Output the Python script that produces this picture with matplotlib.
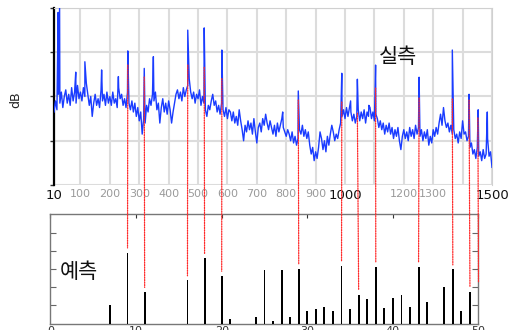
import numpy as np
import matplotlib
matplotlib.use("Agg")
import matplotlib.pyplot as plt
from matplotlib.patches import ConnectionPatch

plt.rcParams['font.family'] = ['DejaVu Sans']

# ---------------- data ----------------
# measured spectrum (top panel), level every 5 Hz from 10 to 1500 Hz
spec_freq = np.arange(10, 1501, 5)
spec_db = [
    33, 38, 34, 41, 37, 42, 35, 40, 43, 37, 41, 36, 44, 38, 42, 37, 45, 39, 42, 38,   # 10-105
    44, 40, 46, 41, 36, 40, 31, 37, 41, 36, 39, 35, 43, 38, 41, 36, 42, 37, 40, 36,   # 110-205
    42, 37, 39, 35, 44, 39, 41, 36, 39, 35, 42, 37, 34, 38, 33, 37, 31, 35, 29, 33,   # 210-305
    23, 30, 28, 36, 33, 39, 36, 41, 38, 42, 34, 37, 28, 35, 39, 33, 37, 32, 38, 34,   # 310-405
    28, 33, 37, 41, 43, 39, 42, 38, 44, 40, 43, 45, 48, 42, 39, 42, 37, 41, 39, 43,   # 410-505
    36, 40, 37, 34, 31, 36, 34, 38, 41, 36, 38, 33, 36, 32, 37, 34, 31, 35, 30, 34,   # 510-605
    33, 29, 33, 28, 31, 27, 34, 29, 25, 20, 27, 24, 29, 25, 28, 23, 30, 24, 19, 26,   # 610-705
    28, 24, 30, 27, 32, 28, 25, 29, 26, 23, 27, 22, 28, 24, 27, 30, 26, 24, 22, 25,   # 710-805
    23, 20, 24, 19, 22, 18, 21, 25, 23, 27, 22, 25, 21, 24, 18, 14, 17, 11, 15, 12,   # 810-905
    17, 24, 21, 16, 20, 15, 22, 18, 23, 27, 24, 20, 23, 21, 25, 28, 31, 34, 30, 35,   # 910-1005
    31, 35, 33, 29, 32, 28, 31, 34, 29, 33, 30, 34, 28, 33, 31, 35, 30, 33, 29, 32,   # 1010-1105
    30, 26, 29, 25, 28, 23, 27, 24, 28, 23, 26, 21, 25, 22, 26, 20, 16, 22, 25, 21,   # 1110-1205
    24, 20, 26, 22, 25, 21, 27, 23, 26, 22, 25, 20, 24, 21, 25, 18, 22, 19, 25, 22,   # 1210-1305
    26, 23, 28, 32, 27, 35, 29, 26, 28, 24, 27, 23, 25, 21, 23, 19, 24, 21, 29, 23,   # 1310-1405
    24, 20, 22, 17, 19, 14, 16, 12, 17, 13, 15, 11, 16, 12, 14, 21, 13, 15, 8]        # 1410-1500
# spectral peaks
peak_freq = [24, 29, 84, 115, 172, 229, 261, 317, 348, 465, 521, 581, 788,
             841, 989, 1019, 1042, 1081, 1104, 1252, 1365, 1422, 1453, 1484]
peak_db = [78, 80, 51, 55.7, 52, 49, 60.6, 52.7, 58, 70, 71, 61, 33,
           42.5, 50.5, 38, 47.8, 36, 54.2, 48.7, 61, 41, 34, 33]

# predicted (bottom panel)
bar_x = [7, 9, 11, 16, 18, 20, 21, 24, 25, 26, 27, 28, 29, 30, 31, 32, 33,
         34, 35, 36, 37, 38, 39, 40, 41, 42, 43, 44, 46, 47, 48, 49, 50]
bar_h = [1.0, 3.9, 1.73, 2.37, 3.6, 2.62, 0.27, 0.35, 2.95, 0.15, 2.95, 0.38,
         3.02, 0.67, 0.77, 0.89, 0.69, 3.17, 0.80, 1.58, 1.37, 3.11, 0.86,
         1.42, 1.55, 0.89, 3.13, 1.17, 2.0, 2.97, 0.71, 1.75, 2.0]

# links between measured peaks and predicted bars
link_bar = [9, 11, 16, 18, 20, 29, 34, 36, 38, 43, 47, 49, 50]
link_freq = [261, 317, 465, 521, 581, 841, 989, 1042, 1104, 1252, 1365, 1422, 1452]
link_start_db = [54.2, 48.8, 54.2, 53.2, 48.1, 38.4, 37.5, 32.5, 43.8, 39.3,
                 38.9, 38.4, 30.3]

top_ticks = [10] + list(range(100, 1501, 100))
top_labels = ['10', '100', '200', '300', '400', '500', '600', '700', '800',
              '900', '1000', '', '1200', '1300', '', '1500']
big_labels = ['10', '1000', '1500']
bottom_ticks = [0, 10, 20, 30, 40, 50]

# ---------------- figure ----------------
fig = plt.figure(figsize=(5.1, 3.3), dpi=100)
ax1 = fig.add_axes([54 / 510, 1 - 185 / 330, 438 / 510, 177 / 330])
ax2 = fig.add_axes([50.5 / 510, 1 - 323.5 / 330, 428 / 510, 109.2 / 330])

# top panel
f_all = np.concatenate([spec_freq, peak_freq])
d_all = np.concatenate([spec_db, peak_db])
order = np.argsort(f_all, kind='stable')
ax1.plot(f_all[order], d_all[order], color='#1a3cff', lw=1.0, zorder=3)
ax1.set_xlim(10, 1500)
ax1.set_ylim(0, 80)
ax1.set_xticks(top_ticks)
ax1.set_xticklabels(top_labels)
ax1.set_yticks([0, 20, 40, 60, 80])
ax1.set_yticklabels([])
ax1.grid(True, color='#dcdcdc', lw=1.5, zorder=0)
ax1.tick_params(axis='x', length=0, pad=3)
ax1.tick_params(axis='y', direction='out', length=3, width=1, color='#333333')
for lab in ax1.get_xticklabels():
    if lab.get_text() in big_labels:
        lab.set_color('#111111')
        lab.set_fontsize(9.5)
    else:
        lab.set_color('#9a9a9a')
        lab.set_fontsize(8)
ax1.spines['left'].set_color('black')
ax1.spines['left'].set_linewidth(1.6)
ax1.spines['top'].set_color('#d0d0d0')
ax1.spines['right'].set_color('#d0d0d0')
ax1.spines['bottom'].set_visible(False)
ax1.text(1180, 58, '실측', fontsize=15, family=['Noto Sans CJK KR', 'DejaVu Sans'],
         ha='center', va='center', color='#111111', zorder=5)
fig.text(16 / 510, 1 - 100 / 330, 'dB', rotation=90, fontsize=9,
         ha='center', va='center', color='#222222')

# bottom panel
ax2.bar(bar_x, bar_h, width=0.22, color='black', zorder=3)
ax2.set_xlim(0, 50)
ax2.set_ylim(0, 6)
ax2.set_xticks(bottom_ticks)
ax2.set_xticklabels([str(t) for t in bottom_ticks])
ax2.set_yticks([1, 2, 3, 4, 5])
ax2.set_yticklabels([])
ax2.tick_params(axis='y', direction='in', length=4, left=True, right=True,
                color='#666666')
ax2.tick_params(axis='x', direction='in', length=3, bottom=False, top=True,
                labelbottom=True, pad=2, labelsize=8, labelcolor='#333333',
                color='#333333')
for s in ax2.spines.values():
    s.set_color('#777777')
    s.set_linewidth(1.0)
ax2.text(3.3, 2.83, '예측', fontsize=15, family=['Noto Sans CJK KR', 'DejaVu Sans'],
         ha='center', va='center', color='#111111')

# red dotted links
bar_lookup = dict(zip(bar_x, bar_h))
for fq, bx, y0 in zip(link_freq, link_bar, link_start_db):
    con = ConnectionPatch(xyA=(fq, y0), coordsA=ax1.transData,
                          xyB=(bx, bar_lookup[bx] + 0.25), coordsB=ax2.transData,
                          color='#ff2a2a', lw=0.9, linestyle=(0, (1, 1)),
                          zorder=10)
    fig.add_artist(con)

fig.savefig('out.png', dpi=100)
